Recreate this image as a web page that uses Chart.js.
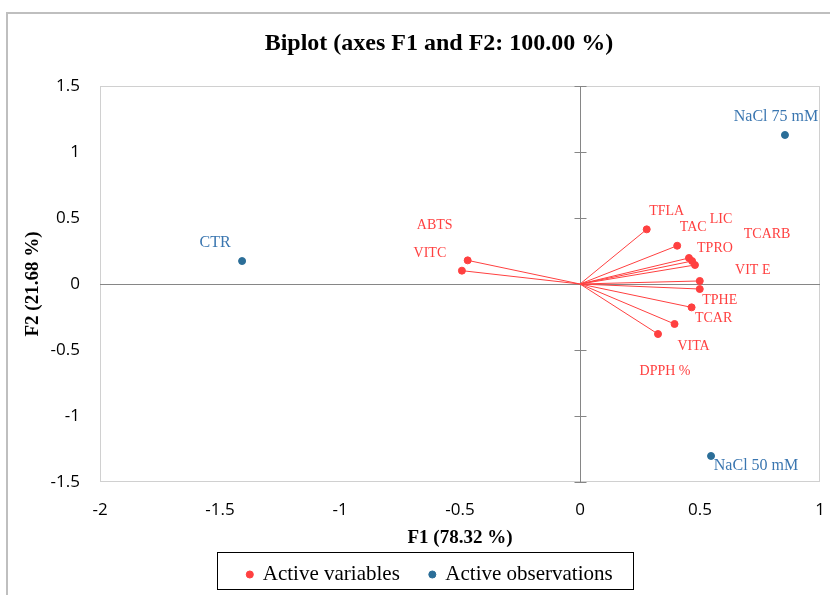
<!DOCTYPE html>
<html>
<head>
<meta charset="utf-8">
<script src="https://cdn.jsdelivr.net/npm/chart.js@4.4.1/dist/chart.umd.min.js"></script>
<style>
  html, body { margin: 0; padding: 0; background: #fff; }
</style>
</head>
<body>
<canvas id="biplot" width="830" height="595"></canvas>
<script>
//----------------------------Data-----------------------------------------------

// active variables (loadings on F1 / F2)
const varNames = ['TFLA', 'TAC', 'LIC', 'TCARB', 'TPRO', 'VIT E', 'TPHE', 'TCAR', 'VITA', 'DPPH %', 'ABTS', 'VITC'];
const varF1 = [0.278, 0.405, 0.454, 0.467, 0.479, 0.499, 0.499, 0.465, 0.394, 0.325, -0.468, -0.492];
const varF2 = [0.414, 0.290, 0.197, 0.174, 0.144, 0.023, -0.038, -0.177, -0.303, -0.379, 0.179, 0.101];

// active observations
const obsNames = ['CTR', 'NaCl 75 mM', 'NaCl 50 mM'];
const obsF1 = [-1.408, 0.854, 0.546];
const obsF2 = [0.174, 1.129, -1.303];

// axis ticks
const xTicks = [-2, -1.5, -1, -0.5, 0, 0.5, 1];
const yTicks = [-1.5, -1, -0.5, 0, 0.5, 1, 1.5];

//----------------------------Styles----------------------------------------------

const RED = '#ff4040';
const BLUE = '#2b6e98';
const BLUE_TXT = '#3a76b0';
const SERIF = '"Liberation Serif", "Times New Roman", serif';
const SANS = '"Open Sans", sans-serif';

// where each point label sits, in pixels from its point
const labelOffsets = {
  'TFLA': [20, -18], 'TAC': [16, -18], 'LIC': [32, -39], 'TCARB': [75, -27],
  'TPRO': [20, -17], 'VIT E': [53, -11], 'TPHE': [20, 11], 'TCAR': [22, 11],
  'VITA': [19, 22], 'DPPH %': [7, 37], 'ABTS': [-33, -35], 'VITC': [-32, -17],
  'CTR': [-27, -18], 'NaCl 75 mM': [-9, -18], 'NaCl 50 mM': [45, 10]
};

const varPoints = varF1.map((x, i) => ({x: x, y: varF2[i], name: varNames[i]}));
const obsPoints = obsF1.map((x, i) => ({x: x, y: obsF2[i], name: obsNames[i]}));

//----------------------------Plugin: frame, axes, vectors, labels----------------

const biplotDecor = {
  id: 'biplotDecor',
  afterLayout(chart) {
    // move legend into its framed box, centre the title
    const lg = chart.legend;
    lg.top = 534; lg.bottom = 595; lg.height = 61;
    lg.left += 20; lg.right += 20;
    const tb = chart.titleBlock;
    tb.left = 58; tb.right = 820;
  },
  beforeDraw(chart) {
    const ctx = chart.ctx;
    const a = chart.chartArea;
    ctx.save();
    // outer frame
    ctx.strokeStyle = '#bfbfbf';
    ctx.lineWidth = 2;
    ctx.beginPath();
    ctx.moveTo(7, 600); ctx.lineTo(7, 13); ctx.lineTo(835, 13);
    ctx.stroke();
    // plot border
    ctx.strokeStyle = '#d0d0d0';
    ctx.lineWidth = 1;
    ctx.strokeRect(a.left + 0.5, a.top + 0.5, a.right - a.left - 1, a.bottom - a.top - 1);
    ctx.restore();
  },
  beforeDatasetsDraw(chart) {
    const ctx = chart.ctx;
    const xs = chart.scales.x, ys = chart.scales.y;
    const a = chart.chartArea;
    const x0 = Math.round(xs.getPixelForValue(0)) + 0.5;
    const y0 = Math.round(ys.getPixelForValue(0)) + 0.5;
    ctx.save();
    ctx.strokeStyle = '#868686';
    ctx.lineWidth = 1;
    ctx.beginPath();
    ctx.moveTo(a.left, y0); ctx.lineTo(a.right, y0);
    ctx.moveTo(x0, a.top); ctx.lineTo(x0, a.bottom);
    yTicks.forEach(v => {
      const py = Math.round(ys.getPixelForValue(v)) + 0.5;
      ctx.moveTo(x0 - 6, py); ctx.lineTo(x0 + 6, py);
    });
    ctx.stroke();
    // vectors from the origin to each variable
    ctx.strokeStyle = RED;
    ctx.lineWidth = 1;
    varPoints.forEach(p => {
      ctx.beginPath();
      ctx.moveTo(xs.getPixelForValue(0), ys.getPixelForValue(0));
      ctx.lineTo(xs.getPixelForValue(p.x), ys.getPixelForValue(p.y));
      ctx.stroke();
    });
    ctx.restore();
  },
  afterDatasetsDraw(chart) {
    const ctx = chart.ctx;
    const xs = chart.scales.x, ys = chart.scales.y;
    ctx.save();
    ctx.textAlign = 'center';
    ctx.textBaseline = 'middle';
    ctx.font = '14px ' + SERIF;
    ctx.fillStyle = RED;
    varPoints.forEach(p => {
      const o = labelOffsets[p.name];
      ctx.fillText(p.name, xs.getPixelForValue(p.x) + o[0], ys.getPixelForValue(p.y) + o[1]);
    });
    ctx.font = '16px ' + SERIF;
    ctx.fillStyle = BLUE_TXT;
    obsPoints.forEach(p => {
      const o = labelOffsets[p.name];
      ctx.fillText(p.name, xs.getPixelForValue(p.x) + o[0], ys.getPixelForValue(p.y) + o[1]);
    });
    ctx.restore();
  },
  afterDraw(chart) {
    // box round the legend
    const ctx = chart.ctx;
    ctx.save();
    ctx.strokeStyle = '#000';
    ctx.lineWidth = 1;
    ctx.strokeRect(217.5, 552.5, 416, 37);
    ctx.restore();
  }
};

//----------------------------Chart-----------------------------------------------

let ctx = document.getElementById('biplot').getContext('2d');
let myChart = new Chart(ctx, {
  type: 'scatter',
  data: {
    datasets: [{
      label: 'Active variables',
      data: varPoints,
      backgroundColor: RED,
      borderColor: RED,
      pointRadius: 3.5,
      pointHoverRadius: 3.5
    }, {
      label: 'Active observations',
      data: obsPoints,
      backgroundColor: BLUE,
      borderColor: BLUE,
      pointRadius: 3.5,
      pointHoverRadius: 3.5
    }]
  },
  options: {
    responsive: false,
    animation: false,
    events: [],
    layout: {padding: {top: 12, left: 0, right: 10, bottom: 0}},
    scales: {
      x: {
        type: 'linear',
        min: -2, max: 1,
        afterBuildTicks: s => { s.ticks = xTicks.map(v => ({value: v})); },
        afterFit: s => { s.height = 71; s.paddingLeft = 0; s.paddingRight = 0; },
        grid: {display: false, drawTicks: false},
        border: {display: false},
        ticks: {color: '#000', padding: 18, font: {family: SANS, size: 17}, maxRotation: 0,
                callback: v => String(v)},
        title: {display: true, text: 'F1 (78.32 %)', color: '#000', padding: {top: 0, bottom: 4},
                font: {family: SERIF, size: 19, weight: 'bold'}}
      },
      y: {
        type: 'linear',
        min: -1.5, max: 1.5,
        afterBuildTicks: s => { s.ticks = yTicks.map(v => ({value: v})); },
        afterFit: s => { s.width = 100; s.paddingTop = 0; s.paddingBottom = 0; },
        grid: {display: false, drawTicks: false},
        border: {display: false},
        ticks: {color: '#000', padding: 20, font: {family: SANS, size: 17},
                callback: v => String(v)},
        title: {display: true, text: 'F2 (21.68 %)', color: '#000', padding: {top: 22, bottom: 0},
                font: {family: SERIF, size: 19, weight: 'bold'}}
      }
    },
    plugins: {
      title: {
        display: true,
        text: 'Biplot (axes F1 and F2: 100.00 %)',
        color: '#000',
        font: {family: SERIF, size: 24, weight: 'bold'},
        padding: {top: 17, bottom: 28.2}
      },
      legend: {
        position: 'bottom',
        maxHeight: 42,
        labels: {
          usePointStyle: true,
          pointStyle: 'circle',
          boxWidth: 5,
          boxHeight: 5,
          padding: 30,
          color: '#000',
          font: {family: SERIF, size: 21}
        }
      },
      tooltip: {enabled: false}
    }
  },
  plugins: [biplotDecor]
});
</script>
</body>
</html>
